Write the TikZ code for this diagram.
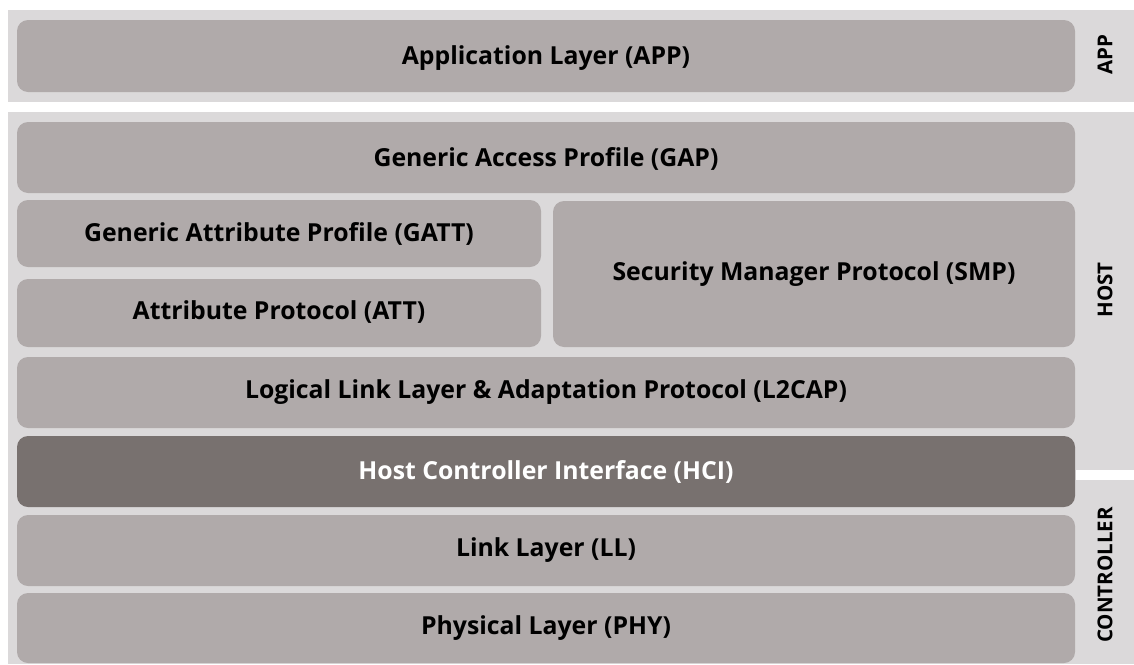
\documentclass[tikz,border=0pt]{standalone}
\usepackage{fontspec}
\setmainfont{Open Sans}
\definecolor{panelgray}{HTML}{DBD9DA}
\definecolor{layergray}{HTML}{B0AAAA}
\definecolor{hcigray}{HTML}{78716F}
\newcommand{\layerbox}[6]{%
  \node[#1,minimum width={#4-#2},minimum height={#5-#3},inner sep=0pt]
    (#6) at ({(#2+#4)/2},{(#3+#5)/2}) {};}
\begin{document}
\begin{tikzpicture}[x=1pt,y=-1pt,
  panel/.style={fill=panelgray,draw=none},
  layer/.style={fill=layergray,draw=none,rounded corners=11pt},
  hci/.style={layer,fill=hcigray},
  captext/.style={font=\fontsize{24.8}{28}\selectfont\bfseries,text=black},
  side/.style={font=\fontsize{20.5}{24}\selectfont\bfseries,rotate=90,text=black}]
\useasboundingbox (0,0) rectangle (1134,664);
\fill[white] (0,0) rectangle (1134,664);
% stack panels
\path[panel] (8,10) rectangle (1134,102);
\path[panel] (8,112) rectangle (1134,470);
\path[panel] (8,480) rectangle (1134,664);
\path[panel] (8,470) rectangle (1076,480);
% layers
\layerbox{layer}{17}{20}{1075}{92}{app}
\layerbox{layer}{17}{122}{1075}{193}{gap}
\layerbox{layer}{17}{200}{541}{267}{gatt}
\layerbox{layer}{17}{279}{541}{347}{att}
\layerbox{layer}{553}{201}{1075}{347}{smp}
\layerbox{layer}{17}{357}{1075}{428}{l2cap}
\layerbox{hci}{17}{436}{1075}{507}{hcibox}
\layerbox{layer}{17}{515}{1075}{586}{ll}
\layerbox{layer}{17}{593}{1075}{663}{phy}
% captions
\node[captext] (tapp) at ([yshift=-2pt]app.center) {Application Layer (APP)};
\node[captext] (tgap) at ([yshift=-1pt]gap.center) {Generic Access Profile (GAP)};
\node[captext] (tgatt) at (gatt.center) {Generic Attribute Profile (GATT)};
\node[captext] (tatt) at ([yshift=1pt]att.center) {Attribute Protocol (ATT)};
\node[captext] (tsmp) at (smp.center) {Security Manager Protocol (SMP)};
\node[captext] (tl2cap) at (l2cap.center) {Logical Link Layer \& Adaptation Protocol (L2CAP)};
\node[captext,text=white] (thci) at (hcibox.center) {Host Controller Interface (HCI)};
\node[captext] (tll) at (ll.center) {Link Layer (LL)};
\node[captext] (tphy) at (phy.center) {Physical Layer (PHY)};
% side labels
\node[side] (lapp) at (1105,55) {APP};
\node[side] (lhost) at (1105,290) {HOST};
\node[side] (lctrl) at (1105,575) {CONTROLLER};
\end{tikzpicture}
\end{document}
